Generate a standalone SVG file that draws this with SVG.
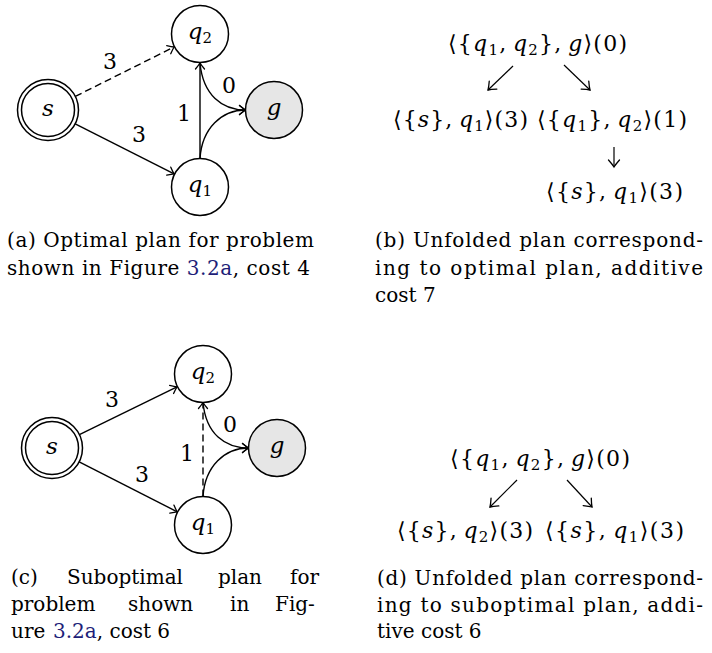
<svg xmlns="http://www.w3.org/2000/svg" width="712" height="653" viewBox="0 0 712 653" font-family="'DejaVu Serif', 'Liberation Serif', serif">
<style>
.nd{fill:#fff;stroke:#000;stroke-width:1.5}
.goal{fill:#e6e6e6;stroke:#000;stroke-width:1.5}
.e{fill:none;stroke:#000;stroke-width:1.4;marker-end:url(#ah)}
.d{stroke-dasharray:7 4}
.t{fill:none;stroke:#000;stroke-width:1.2;marker-end:url(#ah2)}
.nl{font-size:23px;text-anchor:middle}
.i{font-style:italic}
.sb{font-size:15px}
.lb{font-size:22px;text-anchor:middle}
.m{font-size:22px}
.cap{font-size:20px}
.lk{fill:#1e1e78}
</style>
<defs>
<marker id="ah" markerUnits="userSpaceOnUse" markerWidth="12" markerHeight="12" viewBox="-7 -6 8 12" refX="0" refY="0" orient="auto">
<path d="M-6,-4.5 Q-2,-1.2 0,0 Q-2,1.2 -6,4.5" fill="none" stroke="#000" stroke-width="1.3" stroke-linecap="round"/>
</marker>
<marker id="ah2" markerUnits="userSpaceOnUse" markerWidth="14" markerHeight="14" viewBox="-8 -7 9 14" refX="0" refY="0" orient="auto">
<path d="M-7,-5.5 Q-2.5,-1.5 0,0 Q-2.5,1.5 -7,5.5" fill="none" stroke="#000" stroke-width="1.3" stroke-linecap="round"/>
</marker>
</defs>

<!-- Panel (a) -->
<g id="connectors-a">
<path class="e d" d="M75.3,96.4 L174.1,47"/>
<path class="e" d="M75.2,123.8 L174.1,173.9"/>
<path class="e" d="M200,158.5 L200,63"/>
<path class="e" d="M200,63 C203,95 222,110 245.5,110"/>
<path class="e" d="M200,158.5 C202,128 222,110 245.5,110"/>
<text class="lb" x="110" y="69">3</text>
<text class="lb" x="139" y="142">3</text>
<text class="lb" x="184" y="121">1</text>
<text class="lb" x="229" y="93">0</text>
</g>
<g id="a-s"><circle class="nd" cx="48" cy="110" r="30.5"/><circle class="nd" cx="48" cy="110" r="26.5"/><text class="nl i" x="48" y="116">s</text></g>
<g id="a-q2"><circle class="nd" cx="200" cy="34" r="28.5"/><text class="nl" x="200" y="39"><tspan class="i">q</tspan><tspan class="sb" dy="4">2</tspan></text></g>
<g id="a-q1"><circle class="nd" cx="200" cy="187" r="28.5"/><text class="nl" x="200" y="192"><tspan class="i">q</tspan><tspan class="sb" dy="4">1</tspan></text></g>
<g id="a-g"><circle class="goal" cx="274" cy="110" r="28.5"/><text class="nl i" x="274" y="115">g</text></g>
<g id="cap-a">
<text class="cap" x="7" y="247" textLength="307" lengthAdjust="spacing">(a) Optimal plan for problem</text>
<text class="cap" x="7" y="275" textLength="303" lengthAdjust="spacing">shown in Figure <tspan class="lk">3.2a</tspan>, cost 4</text>
</g>

<!-- Panel (b) -->
<g id="b-n0"><text class="m" x="448" y="51" textLength="179" lengthAdjust="spacing">⟨{<tspan class="i">q</tspan><tspan class="sb" dy="4">1</tspan><tspan dy="-4">,&#8201;</tspan><tspan class="i">q</tspan><tspan class="sb" dy="4">2</tspan><tspan dy="-4">},&#8201;</tspan><tspan class="i">g</tspan>⟩(0)</text></g>
<g id="b-n1"><text class="m" x="393" y="127" textLength="135" lengthAdjust="spacing">⟨{<tspan class="i">s</tspan>},&#8201;<tspan class="i">q</tspan><tspan class="sb" dy="4">1</tspan><tspan dy="-4">⟩(3)</tspan></text></g>
<g id="b-n2"><text class="m" x="537" y="127" textLength="150" lengthAdjust="spacing">⟨{<tspan class="i">q</tspan><tspan class="sb" dy="4">1</tspan><tspan dy="-4">},&#8201;</tspan><tspan class="i">q</tspan><tspan class="sb" dy="4">2</tspan><tspan dy="-4">⟩(1)</tspan></text></g>
<g id="b-n3"><text class="m" x="546" y="199" textLength="137" lengthAdjust="spacing">⟨{<tspan class="i">s</tspan>},&#8201;<tspan class="i">q</tspan><tspan class="sb" dy="4">1</tspan><tspan dy="-4">⟩(3)</tspan></text></g>
<g id="connectors-b">
<path class="t" d="M513,66 L488,90"/>
<path class="t" d="M564,65 L590,90"/>
<path class="t" d="M614,147 L614,167"/>
</g>
<g id="cap-b">
<text class="cap" x="375" y="247" textLength="328" lengthAdjust="spacing">(b) Unfolded plan correspond-</text>
<text class="cap" x="375" y="274.5" textLength="328" lengthAdjust="spacing">ing to optimal plan, additive</text>
<text class="cap" x="375" y="302">cost 7</text>
</g>

<!-- Panel (c) -->
<g id="connectors-c">
<path class="e" d="M79.4,434.6 L177,386.8"/>
<path class="e" d="M79.2,461.9 L177.2,511.8"/>
<path class="e d" d="M203,496.5 L203,402.5"/>
<path class="e" d="M203,402.5 C206,434 225,448 248.5,448"/>
<path class="e" d="M203,496.5 C205,466 225,448 248.5,448"/>
<text class="lb" x="112" y="407">3</text>
<text class="lb" x="142" y="482">3</text>
<text class="lb" x="187" y="461">1</text>
<text class="lb" x="230" y="432">0</text>
</g>
<g id="c-s"><circle class="nd" cx="52" cy="448" r="30.5"/><circle class="nd" cx="52" cy="448" r="26.5"/><text class="nl i" x="52" y="454">s</text></g>
<g id="c-q2"><circle class="nd" cx="203" cy="374" r="28.5"/><text class="nl" x="203" y="379"><tspan class="i">q</tspan><tspan class="sb" dy="4">2</tspan></text></g>
<g id="c-q1"><circle class="nd" cx="203" cy="525" r="28.5"/><text class="nl" x="203" y="530"><tspan class="i">q</tspan><tspan class="sb" dy="4">1</tspan></text></g>
<g id="c-g"><circle class="goal" cx="277" cy="448" r="28.5"/><text class="nl i" x="277" y="453">g</text></g>
<g id="cap-c">
<text class="cap" y="584"><tspan x="11">(c)</tspan><tspan x="67">Suboptimal</tspan><tspan x="218">plan</tspan><tspan x="290">for</tspan></text>
<text class="cap" y="611"><tspan x="11">problem</tspan><tspan x="128">shown</tspan><tspan x="230">in</tspan><tspan x="275">Fig-</tspan></text>
<text class="cap" y="638"><tspan x="11">ure </tspan><tspan class="lk" x="53">3.2a</tspan><tspan>, cost 6</tspan></text>
</g>

<!-- Panel (d) -->
<g id="d-n0"><text class="m" x="450" y="466" textLength="180" lengthAdjust="spacing">⟨{<tspan class="i">q</tspan><tspan class="sb" dy="4">1</tspan><tspan dy="-4">,&#8201;</tspan><tspan class="i">q</tspan><tspan class="sb" dy="4">2</tspan><tspan dy="-4">},&#8201;</tspan><tspan class="i">g</tspan>⟩(0)</text></g>
<g id="d-n1"><text class="m" x="397" y="538" textLength="136" lengthAdjust="spacing">⟨{<tspan class="i">s</tspan>},&#8201;<tspan class="i">q</tspan><tspan class="sb" dy="4">2</tspan><tspan dy="-4">⟩(3)</tspan></text></g>
<g id="d-n2"><text class="m" x="545" y="538" textLength="139" lengthAdjust="spacing">⟨{<tspan class="i">s</tspan>},&#8201;<tspan class="i">q</tspan><tspan class="sb" dy="4">1</tspan><tspan dy="-4">⟩(3)</tspan></text></g>
<g id="connectors-d">
<path class="t" d="M517,480 L490,507"/>
<path class="t" d="M567,480 L592,507"/>
</g>
<g id="cap-d">
<text class="cap" x="377" y="585" textLength="326" lengthAdjust="spacing">(d) Unfolded plan correspond-</text>
<text class="cap" x="377" y="612" textLength="326" lengthAdjust="spacing">ing to suboptimal plan, addi-</text>
<text class="cap" x="377" y="638">tive cost 6</text>
</g>
</svg>
